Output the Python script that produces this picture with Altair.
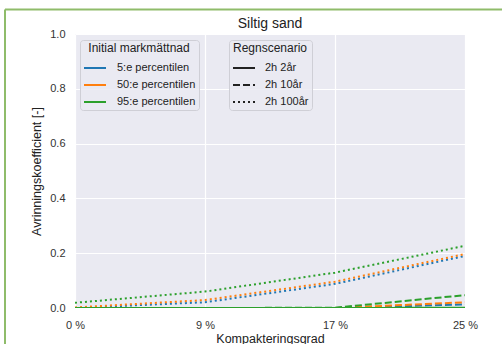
import altair as alt
import pandas as pd

# ---- data ----
x_vals = [0, 25 / 3, 50 / 3, 25]
groups = ["5:e percentilen", "50:e percentilen", "95:e percentilen"]
scenarios = ["2h 2år", "2h 10år", "2h 100år"]

blue_2 = [0.0, 0.0, 0.0, 0.0]
blue_10 = [0.0, 0.0, 0.0, 0.013]
blue_100 = [0.0, 0.021, 0.088, 0.19]
orange_2 = [0.0, 0.0, 0.0, 0.0]
orange_10 = [0.0, 0.0, 0.0, 0.021]
orange_100 = [0.002, 0.029, 0.096, 0.197]
green_2 = [0.0, 0.0, 0.0, 0.001]
green_10 = [0.0, 0.0, 0.001, 0.047]
green_100 = [0.019, 0.06, 0.129, 0.227]

series = {
    ("5:e percentilen", "2h 2år"): blue_2,
    ("5:e percentilen", "2h 10år"): blue_10,
    ("5:e percentilen", "2h 100år"): blue_100,
    ("50:e percentilen", "2h 2år"): orange_2,
    ("50:e percentilen", "2h 10år"): orange_10,
    ("50:e percentilen", "2h 100år"): orange_100,
    ("95:e percentilen", "2h 2år"): green_2,
    ("95:e percentilen", "2h 10år"): green_10,
    ("95:e percentilen", "2h 100år"): green_100,
}

rows = []
order = 0
for (g, s), ys in series.items():
    for xv, yv in zip(x_vals, ys):
        rows.append({"x": xv, "y": yv, "grp": g, "scen": s, "key": f"{order:02d}"})
    order += 1
df = pd.DataFrame(rows)

FONT = "Liberation Sans"

lines = alt.Chart(df).mark_line(strokeWidth=2, clip=True).encode(
    x=alt.X(
        "x:Q",
        scale=alt.Scale(domain=[0, 25], nice=False, zero=False),
        axis=alt.Axis(
            values=x_vals,
            labelExpr="format(ceil(datum.value - 0.001), 'd') + ' %'",
            labelFlush=False,
            title="Kompakteringsgrad",
            grid=True,
        ),
    ),
    y=alt.Y(
        "y:Q",
        scale=alt.Scale(domain=[0, 1], nice=False),
        axis=alt.Axis(values=[0, 0.2, 0.4, 0.6, 0.8, 1.0], format=".1f",
                      title="Avrinningskoefficient [-]"),
    ),
    color=alt.Color(
        "grp:N",
        scale=alt.Scale(domain=groups, range=["#1f77b4", "#ff7f0e", "#2ca02c"]),
        legend=alt.Legend(
            title="Initial markmättnad",
            orient="none", legendX=5, legendY=6,
            symbolType="stroke", symbolStrokeWidth=2, symbolSize=484,
            rowPadding=-7, labelOffset=10,
        ),
    ),
    strokeDash=alt.StrokeDash(
        "scen:N",
        scale=alt.Scale(domain=scenarios, range=[[1, 0], [7, 3], [2, 3]]),
        legend=alt.Legend(
            title="Regnscenario",
            orient="none", legendX=154, legendY=6,
            symbolType="stroke", symbolStrokeWidth=2, symbolSize=484,
            symbolStrokeColor="#222222",
            rowPadding=-7, labelOffset=9,
        ),
    ),
    detail="key:N",
    order="key:N",
)

border = alt.Chart(pd.DataFrame({"a": [0]})).mark_rule(
    color="#8fbc6a", strokeWidth=2, clip=False
)
top_border = border.encode(x=alt.value(-70), x2=alt.value(430), y=alt.value(-24.5))
left_border = border.encode(x=alt.value(-70), y=alt.value(-24.5), y2=alt.value(320))

chart = alt.layer(lines, top_border, left_border).properties(
    width=390,
    height=274,
    title=alt.TitleParams("Siltig sand", fontSize=14, font=FONT, color="#222222",
                          fontWeight="normal", anchor="middle", offset=6, dy=28.5),
    padding={"left": 75, "top": 34, "right": 37, "bottom": 36},
    autosize=alt.AutoSizeParams(type="none"),
    background="white",
).configure_view(
    fill="#EAEAF2", stroke=None
).configure_axis(
    domain=False, ticks=False, grid=True, gridColor="white", gridWidth=1.2,
    labelFont=FONT, labelFontSize=11, labelColor="#333333",
    titleFont=FONT, titleFontSize=12.5, titleColor="#222222", titleFontWeight="normal",
    labelPadding=10,
).configure_axisY(
    titlePadding=6,
).configure_axisX(
    labelPadding=11, titlePadding=2,
).configure_legend(
    fillColor="rgba(234,234,242,0.85)", strokeColor="#cfcfd6", cornerRadius=3,
    padding=3, titleFont=FONT, titleFontSize=12, titleFontWeight="normal",
    titleColor="#222222", titleAnchor="middle", labelFont=FONT, labelFontSize=11,
    labelColor="#222222", titlePadding=1,
)

chart.save("out.html", embed_options={"renderer": "svg", "actions": False})
